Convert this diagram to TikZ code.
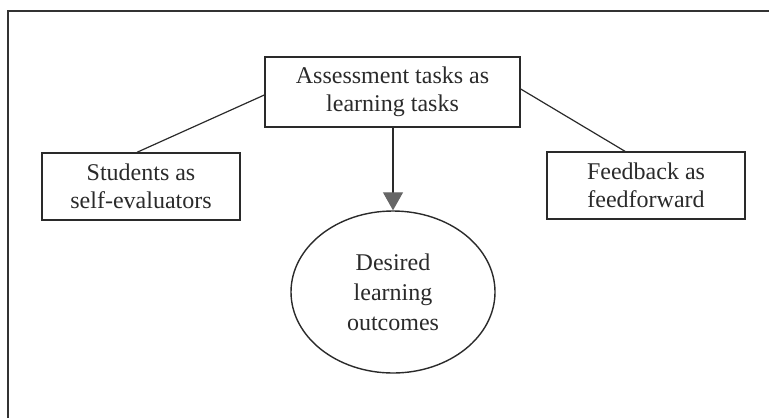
\documentclass[tikz,border=0pt]{standalone}
\usepackage{fontspec}
\setmainfont{Liberation Serif}
\usetikzlibrary{arrows.meta,shapes.geometric}
\definecolor{ink}{HTML}{2A2A2A}
\tikzset{
  txt/.style={font=\fontsize{12}{14}\selectfont, text=ink, align=center, inner sep=0pt},
  box/.style={txt, draw=ink, line width=0.7pt, rectangle},
  oval/.style={txt, draw=ink, line width=0.7pt, ellipse, font=\fontsize{12}{15}\selectfont},
  link/.style={draw=ink, line width=0.6pt},
}
\begin{document}
\begin{tikzpicture}[x=0.5pt,y=-0.5pt]
\useasboundingbox (0,0) rectangle (769,418);
\draw[line width=1pt, draw=black!80] (8,418) -- (8,11) -- (769,11);
\node[box, minimum width=127.5pt, minimum height=35pt] (top) at (392.5,92) {Assessment tasks as\\learning tasks};
\node[box, minimum width=99pt, minimum height=33.5pt] (left) at (141,186.5) {Students as\\self-evaluators};
\node[box, minimum width=99pt, minimum height=33.5pt] (right) at (646,185.5) {Feedback as\\feedforward};
\node[oval, minimum width=102pt, minimum height=81pt] (goal) at (393,292) {Desired\\learning\\outcomes};
\draw[link] ([yshift=-1.5pt]top.west) -- ([xshift=-2pt]left.north);
\draw[link] ([yshift=1.5pt]top.east) -- ([xshift=-10.5pt]right.north);
\draw[link, -{Triangle[width=10pt,length=9pt,color=black!60]}] (top.south -| goal.north) -- (goal.north);
\end{tikzpicture}
\end{document}
